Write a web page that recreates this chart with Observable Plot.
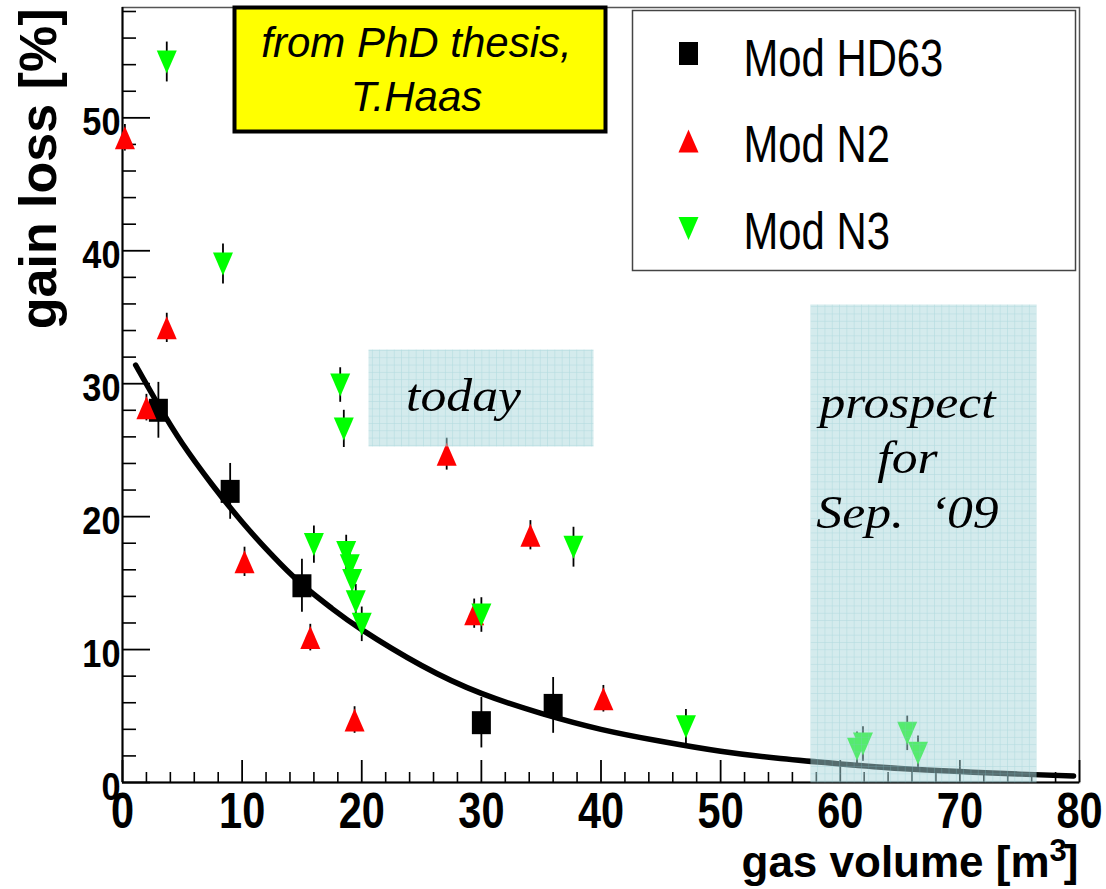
<!DOCTYPE html>
<html>
<head>
<meta charset="utf-8">
<script src="https://cdn.jsdelivr.net/npm/d3@7"></script>
<script src="https://cdn.jsdelivr.net/npm/@observablehq/plot@0.6"></script>
<style>
  html, body { margin: 0; padding: 0; background: #fff; }
  #chart svg { display: block; }
</style>
</head>
<body>
<!-- hatched light-blue fill used for the shaded annotation regions -->
<svg width="0" height="0" style="position:absolute">
  <defs>
    <pattern id="bluegrid" width="7.3" height="7.3" patternUnits="userSpaceOnUse">
      <rect width="7.3" height="7.3" fill="#a9d7dc" fill-opacity="0.5"></rect>
      <path d="M7.3 0V7.3M0 7.3H7.3" stroke="#7fc3cb" stroke-opacity="0.45" stroke-width="1"></path>
    </pattern>
  </defs>
</svg>
<div id="chart"></div>
<script>
// ---- measurements: gain loss [%] versus gas volume [m^3] ----
const hd63X   = [3.0, 9.0, 15.0, 30.0, 36.0];
const hd63Y   = [28.0, 21.9, 14.8, 4.5, 5.8];
const hd63Err = [2.1, 2.1, 2.0, 1.9, 2.1];

const n2X   = [0.2, 2.0, 3.7, 10.2, 15.7, 19.4, 27.1, 29.4, 34.1, 40.2];
const n2Y   = [48.5, 28.2, 34.2, 16.6, 10.9, 4.7, 24.7, 12.7, 18.6, 6.3];
const n2Err = [1.0, 1.0, 1.1, 1.1, 1.0, 1.0, 1.2, 1.1, 1.1, 1.0];

const n3X   = [3.7, 8.4, 16.0, 18.2, 18.5, 18.7, 19.0, 19.2, 19.5, 20.0, 30.0, 37.7, 47.1, 61.4, 61.9, 65.6, 66.5];
const n3Y   = [54.2, 39.0, 17.9, 29.9, 26.6, 17.3, 16.3, 15.2, 13.6, 11.9, 12.6, 17.7, 4.2, 2.5, 2.9, 3.7, 2.2];
const n3Err = [1.5, 1.5, 1.4, 1.3, 1.4, 1.3, 1.3, 1.3, 1.3, 1.3, 1.3, 1.5, 1.3, 1.3, 1.3, 1.3, 1.3];

// exponential fit through the HD63 points, sampled along the drawn curve
const fitX = [1.1, 3, 5, 7.5, 10, 12.5, 15, 17.5, 20, 25, 30, 35, 40, 45, 50, 55, 60, 65, 70, 75, 79.5];
const fitY = [31.4, 28.4, 25.5, 22.4, 19.6, 17.1, 14.9, 13.1, 11.5, 8.8, 6.7, 5.2, 4.0, 3.1, 2.35, 1.8, 1.4, 1.06, 0.82, 0.63, 0.49];

// axis ticks and labels
const xMajor = [0, 10, 20, 30, 40, 50, 60, 70, 80];
const xMinor = [2, 4, 6, 8, 12, 14, 16, 18, 22, 24, 26, 28, 32, 34, 36, 38, 42, 44, 46, 48, 52, 54, 56, 58, 62, 64, 66, 68, 72, 74, 76, 78];
const yMajor = [0, 10, 20, 30, 40, 50];
const yMinor = [2, 4, 6, 8, 12, 14, 16, 18, 22, 24, 26, 28, 32, 34, 36, 38, 42, 44, 46, 48, 52, 54, 56, 58];

const xTitleParts = ["gas volume [m", "3", "]"];   // "3" is set as a superscript
const yTitle = "gain loss [%]";
const legendLabels = ["Mod HD63", "Mod N2", "Mod N3"];
const noteText = "from PhD thesis,\nT.Haas";
const todayText = "today";
const prospectText = "prospect\nfor\nSep.\u00a0 \u201809";

// ---- layout ----
const W = 1106, H = 889;
const mL = 122, mR = 27, mT = 7, mB = 107;
const innerW = W - mL - mR;   // 957
const innerH = H - mT - mB;   // 775

const sans = "'Liberation Sans', Arial, Helvetica, sans-serif";
const serif = "'Liberation Serif', 'Times New Roman', Times, serif";

// font sizes (each group of texts has its own size, used below to find it again)
const fsYTick = 39, fsXTick = 50, fsLegend = 51, fsSerif = 47, fsXTitle = 44;

// marker shapes: ROOT-style filled square, up-triangle and down-triangle
const symSquare = {draw(ctx, size) { const r = Math.sqrt(size / Math.PI); const w = 0.95 * r, h = 1.15 * r;
  ctx.moveTo(-w, -h); ctx.lineTo(w, -h); ctx.lineTo(w, h); ctx.lineTo(-w, h); ctx.closePath(); }};
const symUp = {draw(ctx, size) { const r = Math.sqrt(size / Math.PI); const h = 1.15 * r;
  ctx.moveTo(0, -h); ctx.lineTo(r, h); ctx.lineTo(-r, h); ctx.closePath(); }};
const symDown = {draw(ctx, size) { const r = Math.sqrt(size / Math.PI); const h = 1.15 * r;
  ctx.moveTo(0, h); ctx.lineTo(r, -h); ctx.lineTo(-r, -h); ctx.closePath(); }};

const rows = (xs, ys, es) => xs.map((x, i) => ({x, y: ys[i], err: es[i]}));
const hd63 = rows(hd63X, hd63Y, hd63Err);
const n2 = rows(n2X, n2Y, n2Err);
const n3 = rows(n3X, n3Y, n3Err);
const fit = fitX.map((x, i) => ({x, y: fitY[i]}));

const series = [
  {data: hd63, symbol: symSquare, color: "#000000"},
  {data: n2, symbol: symUp, color: "#ff0000"},
  {data: n3, symbol: symDown, color: "#00ff00"}
];

const legendMarks = legendLabels.flatMap((label, i) => [
  Plot.dot([label], {frameAnchor: "top-left", dx: 566, dy: 46 + i * 87.5,
    symbol: series[i].symbol, r: 10, fill: series[i].color, stroke: "none"}),
  Plot.text([label], {frameAnchor: "top-left", dx: 621, dy: 68 + i * 86.5, text: d => d,
    textAnchor: "start", lineAnchor: "bottom", fontSize: fsLegend, fontFamily: sans, fill: "#000"})
]);

const chart = Plot.plot({
  width: W, height: H,
  marginLeft: mL, marginRight: mR, marginTop: mT, marginBottom: mB,
  x: {domain: [0, 80], axis: null},
  y: {domain: [0, 58.3], axis: null},
  style: {background: "#fff", overflow: "visible"},
  marks: [
    // plot frame
    Plot.frame({stroke: "#555", strokeWidth: 1.5}),
    // inward ticks
    Plot.tickY(yMajor, {y: d => d, insetRight: innerW - 28, stroke: "#000", strokeWidth: 1.8}),
    Plot.tickY(yMinor, {y: d => d, insetRight: innerW - 14, stroke: "#000", strokeWidth: 1.6}),
    Plot.tickX(xMajor, {x: d => d, insetTop: innerH - 22, stroke: "#000", strokeWidth: 1.8}),
    Plot.tickX(xMinor, {x: d => d, insetTop: innerH - 10, stroke: "#000", strokeWidth: 1.6}),
    // axis lines
    Plot.ruleX([0], {stroke: "#000", strokeWidth: 2}),
    Plot.ruleY([0], {stroke: "#000", strokeWidth: 2}),
    // error bars
    ...series.map(s => Plot.ruleX(s.data, {x: "x", y1: d => d.y - d.err, y2: d => d.y + d.err,
      stroke: "#000", strokeWidth: 1.8})),
    // fit curve
    Plot.line(fit, {x: "x", y: "y", curve: "natural", stroke: "#000", strokeWidth: 5.5}),
    // markers
    ...series.map(s => Plot.dot(s.data, {x: "x", y: "y", symbol: s.symbol, r: 10,
      fill: s.color, stroke: "none"})),
    // shaded regions
    Plot.frame({insetLeft: 246, insetRight: 486, insetTop: 342, insetBottom: 336,
      fill: "url(#bluegrid)", stroke: "none"}),
    Plot.frame({insetLeft: 688, insetRight: 43, insetTop: 297, insetBottom: 0,
      fill: "url(#bluegrid)", stroke: "none"}),
    Plot.text([todayText], {frameAnchor: "top-left", dx: 463 - mL, dy: 410 - mT, text: d => d,
      textAnchor: "middle", lineAnchor: "bottom", fontFamily: serif, fontStyle: "italic",
      fontSize: fsSerif, fill: "#000"}),
    Plot.text([prospectText], {frameAnchor: "top-left", dx: 907 - mL, dy: 527 - mT, text: d => d,
      textAnchor: "middle", lineAnchor: "bottom", lineHeight: 1.17, fontFamily: serif,
      fontStyle: "italic", fontSize: fsSerif, fill: "#000"}),
    // yellow note box
    Plot.frame({insetLeft: 112, insetRight: 474, insetTop: 0, insetBottom: 651,
      fill: "#ffff00", stroke: "#000", strokeWidth: 4}),
    Plot.text([noteText], {frameAnchor: "top-left", dx: 416 - mL, dy: 110 - mT, text: d => d,
      textAnchor: "middle", lineAnchor: "bottom", lineHeight: 1.27, fontFamily: sans,
      fontStyle: "italic", fontSize: 42, fill: "#000"}),
    // legend
    Plot.frame({insetLeft: 510, insetRight: 4, insetTop: 3, insetBottom: 512,
      fill: "#fff", stroke: "#444", strokeWidth: 1.5}),
    ...legendMarks,
    // tick labels
    Plot.text(yMajor, {y: d => d, text: d => String(d), frameAnchor: "left", dx: -2, dy: 5,
      textAnchor: "end", lineAnchor: "middle", fontFamily: sans, fontWeight: "bold",
      fontSize: fsYTick, fill: "#000"}),
    Plot.text(xMajor, {x: d => d, text: d => String(d), frameAnchor: "bottom", dy: 10,
      textAnchor: "middle", lineAnchor: "top", fontFamily: sans, fontWeight: "bold",
      fontSize: fsXTick, fill: "#000"}),
    // axis titles
    Plot.text([xTitleParts.join("")], {frameAnchor: "bottom-right", dx: -1, dy: 94, text: d => d,
      textAnchor: "end", lineAnchor: "bottom", fontFamily: sans, fontWeight: "bold",
      fontSize: fsXTitle, fill: "#000"}),
    Plot.text([yTitle], {frameAnchor: "top-left", dx: 55 - mL, dy: 1, text: d => d, rotate: -90,
      textAnchor: "end", lineAnchor: "bottom", fontFamily: sans, fontWeight: "bold",
      fontSize: 52, fill: "#000"})
  ]
});

// horizontal squeeze / stretch of a text group around each text's anchor
function scaleText(svg, fontSize, sx) {
  svg.querySelectorAll(`g[font-size="${fontSize}"] text`).forEach(t => {
    const tr = t.getAttribute("transform") || "";
    t.setAttribute("transform", `${tr} scale(${sx},1)`);
  });
}
scaleText(chart, fsYTick, 0.88);
scaleText(chart, fsXTick, 0.83);
scaleText(chart, fsLegend, 0.82);
scaleText(chart, fsSerif, 1.1);

// x-axis title: raise the exponent of m^3
chart.querySelectorAll(`g[font-size="${fsXTitle}"] text`).forEach(t => {
  const ns = "http://www.w3.org/2000/svg";
  t.textContent = "";
  const base = document.createElementNS(ns, "tspan");
  base.textContent = xTitleParts[0];
  const sup = document.createElementNS(ns, "tspan");
  sup.textContent = xTitleParts[1];
  sup.setAttribute("dy", "-0.5em");
  sup.setAttribute("font-size", "31");
  const close = document.createElementNS(ns, "tspan");
  close.textContent = xTitleParts[2];
  close.setAttribute("dy", "0.35em");
  close.setAttribute("dx", "-3");
  t.append(base, sup, close);
});

document.getElementById("chart").appendChild(chart);
</script>
</body>
</html>
